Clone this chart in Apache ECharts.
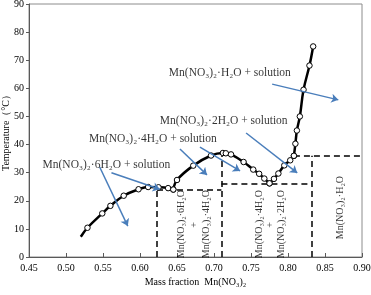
<!DOCTYPE html>
<html>
<head>
<meta charset="utf-8">
<script src="https://cdn.jsdelivr.net/npm/echarts@6/dist/echarts.min.js"></script>
<style>
html,body{margin:0;padding:0;background:#fff;}
#chart{width:371px;height:295px;}
</style>
</head>
<body>
<div id="chart"></div>
<script>
// solubility branches, [mass fraction, temperature]
var hexaStart = [0.520, 7.2];
var hexaPts = [[0.529,10.4],[0.549,15.5],[0.560,18.2],[0.578,21.8],[0.598,24.1],[0.611,24.9],[0.625,24.8],[0.638,24.5],[0.645,24.0]];
var tetraPts = [[0.645,24.0],[0.650,27.4],[0.672,32.5],[0.696,36.1],[0.712,37.0],[0.716,36.9],[0.723,36.5],[0.740,33.8],[0.753,31.1],[0.761,29.6],[0.768,27.9],[0.775,26.2]];
var diPts = [[0.775,26.2],[0.781,27.8],[0.787,29.7],[0.795,32.6],[0.803,34.4],[0.808,36.0]];
var monoPts = [[0.808,36.0],[0.810,40.3],[0.812,45.0],[0.816,50.0],[0.821,59.5],[0.829,68.1],[0.834,74.9]];

// phase boundaries (dashed)
var boundaries = [
  [[0.623,0],[0.623,24]],
  [[0.623,24],[0.710,24]],
  [[0.710,0],[0.710,36]],
  [[0.710,26],[0.832,26]],
  [[0.832,0],[0.832,36]],
  [[0.808,36],[0.900,36]]
];

// arrows from region labels
var arrows = [
  [[0.5455,32.0],[0.5835,11.0]],
  [[0.5614,30.0],[0.6268,24.1]],
  [[0.654,38.4],[0.6905,29.2]],
  [[0.681,39.1],[0.7352,30.6]],
  [[0.7434,44.1],[0.8125,29.9]],
  [[0.7786,61.5],[0.868,55.9]]
];

// region labels: [x, y, text]
var regionLabels = [
  [0.4683,32.8,'Mn(NO₃)₂·6H₂O + solution'],
  [0.5310,41.9,'Mn(NO₃)₂·4H₂O + solution'],
  [0.6268,48.4,'Mn(NO₃)₂·2H₂O + solution'],
  [0.6390,65.5,'Mn(NO₃)₂·H₂O + solution']
];
var solidLabels = [
  [0.6562,11.7,'Mn(NO₃)₂·6H₂O'],
  [0.6729,11.4,'+'],
  [0.6892,11.7,'Mn(NO₃)₂·4H₂O'],
  [0.7614,11.7,'Mn(NO₃)₂·4H₂O'],
  [0.7768,11.4,'+'],
  [0.7917,11.7,'Mn(NO₃)₂·2H₂O'],
  [0.8707,17.6,'Mn(NO₃)₂·H₂O']
];

var FONT = "'Liberation Serif', 'DejaVu Serif', serif";

function branch(pts){
    return {
        type: 'line',
        data: pts,
        smooth: 0.4,
        symbol: 'circle',
        symbolSize: 5.5,
        lineStyle: {color: '#000', width: 2.5},
        itemStyle: {color: '#fff', borderColor: '#000', borderWidth: 1},
        z: 5
    };
}

var hexaData = [{value: hexaStart, symbol: 'none'}].concat(hexaPts);

var myChart = echarts.init(document.getElementById('chart'));
myChart.setOption({
    animation: false,
    textStyle: {fontFamily: FONT, color: '#000'},
    grid: {
        left: 29, right: 9, top: 4, bottom: 38,
        containLabel: false,
        outerBoundsMode: 'none',
        show: true, borderColor: '#8c8c8c', borderWidth: 1
    },
    xAxis: {
        type: 'value',
        min: 0.45, max: 0.90, interval: 0.05,
        name: 'Mass fraction  Mn(NO₃)₂',
        nameLocation: 'middle',
        nameGap: 20,
        nameMoveOverlap: false,
        nameTextStyle: {fontSize: 10, fontFamily: FONT, color: '#000'},
        axisLine: {lineStyle: {color: '#595959'}},
        axisTick: {inside: true, length: 4, lineStyle: {color: '#595959'}},
        axisLabel: {fontSize: 10, fontFamily: FONT, color: '#000', margin: 6,
            formatter: function(v){ return v.toFixed(2); }},
        splitLine: {show: false}
    },
    yAxis: {
        type: 'value',
        min: 0, max: 90, interval: 10,
        name: 'Temperature（°C）',
        nameLocation: 'middle',
        nameGap: 18,
        nameMoveOverlap: false,
        nameTextStyle: {fontSize: 10, fontFamily: FONT, color: '#000'},
        axisLine: {show: true, lineStyle: {color: '#595959'}},
        axisTick: {show: true, length: 3, lineStyle: {color: '#595959'}},
        axisLabel: {fontSize: 10, fontFamily: FONT, color: '#000', margin: 5},
        splitLine: {show: false}
    },
    series: [
        branch(hexaData),
        branch(tetraPts),
        branch(diPts),
        branch(monoPts),
        {
            type: 'lines',
            coordinateSystem: 'cartesian2d',
            symbol: 'none',
            lineStyle: {color: '#000', width: 1.5, type: [6, 4], opacity: 1},
            data: boundaries.map(function(c){ return {coords: c}; }),
            z: 3
        },
        {
            type: 'lines',
            coordinateSystem: 'cartesian2d',
            symbol: ['none', 'arrow'],
            symbolSize: [6, 7],
            lineStyle: {color: '#4a7ebb', width: 1.5, opacity: 1},
            data: arrows.map(function(c){ return {coords: c}; }),
            z: 6
        },
        {
            type: 'scatter',
            symbolSize: 0,
            data: regionLabels.map(function(d){ return {value: [d[0], d[1]], name: d[2]}; }),
            label: {
                show: true, position: [0, 0], align: 'left', verticalAlign: 'middle',
                fontSize: 11.5, fontFamily: FONT, color: '#000',
                formatter: function(p){ return p.name; }
            },
            z: 7
        },
        {
            type: 'scatter',
            symbolSize: 0,
            data: solidLabels.map(function(d){ return {value: [d[0], d[1]], name: d[2]}; }),
            label: {
                show: true, position: [0, 0], rotate: 90, align: 'center', verticalAlign: 'middle',
                fontSize: 10, fontFamily: FONT, color: '#000',
                formatter: function(p){ return p.name; }
            },
            z: 7
        }
    ]
});
</script>
</body>
</html>
